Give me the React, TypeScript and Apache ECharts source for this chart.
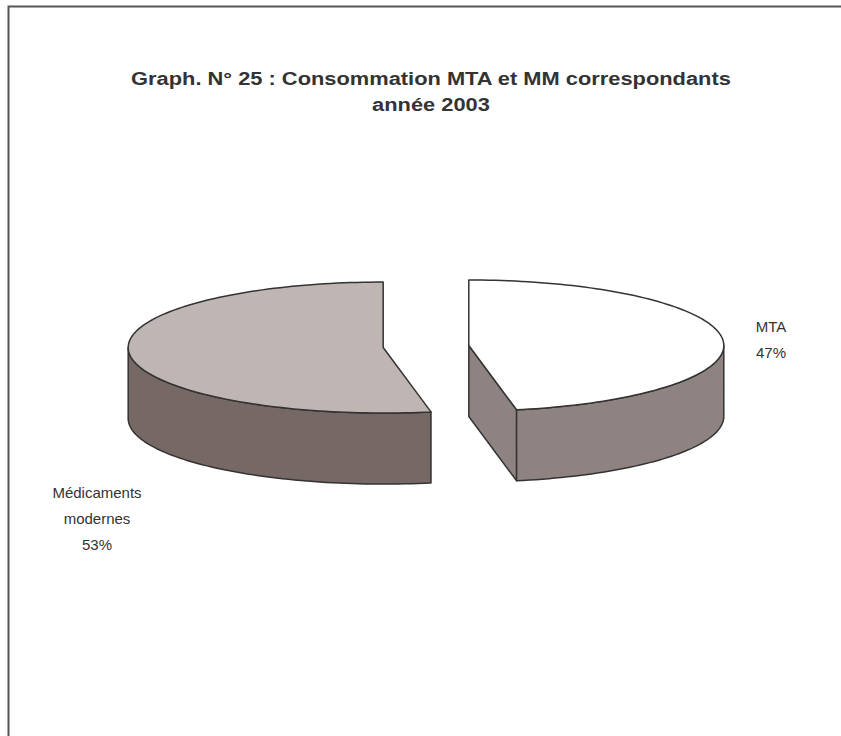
import React, { useEffect, useRef } from "react";
import * as echarts from "echarts";

// ---- data ----
const categories = ["MTA", "Médicaments modernes"];
const categoryLabels = ["MTA", "Médicaments\nmodernes"];
const values = [47, 53];
const titleLines = ["Graph. N° 25 : Consommation MTA et MM correspondants", "année 2003"];

// ---- styles / layout ----
const topColors = ["#ffffff", "#bfb6b3"];
const sideColors = ["#8e8380", "#766864"];
const labelAnchors = [
  [771, 339],
  [97, 518],
];
const CX = 426;
const CY = 346.5;
const RX = 255;
const RY = 65.5;
const H = 71;
const EXPLODE = 43;

const total = values.reduce((a, b) => a + b, 0);
const cum: number[] = [];
values.reduce((acc, v, i) => {
  cum[i] = acc;
  return acc + v;
}, 0);

function renderItem(params: any, api: any) {
  const i = params.dataIndex;
  const v = api.value(0);
  const start = (cum[i] / total) * Math.PI * 2;
  const end = start + (v / total) * Math.PI * 2;
  const mid = (start + end) / 2;
  const ox = CX + EXPLODE * Math.sin(mid);
  const oy = CY - EXPLODE * (RY / RX) * Math.cos(mid);
  const pt = (a: number, dy = 0) => [ox + RX * Math.sin(a), oy - RY * Math.cos(a) + dy];
  const arc = (a0: number, a1: number, dy = 0) => {
    const n = Math.max(2, Math.ceil((Math.abs(a1 - a0) / (Math.PI * 2)) * 240));
    const pts: number[][] = [];
    for (let k = 0; k <= n; k++) pts.push(pt(a0 + ((a1 - a0) * k) / n, dy));
    return pts;
  };
  const stroke = "#333333";
  const lw = 1.5;
  const children: any[] = [];

  const cutFace = (a: number) => ({
    type: "polygon",
    shape: { points: [[ox, oy], pt(a), pt(a, H), [ox, oy + H]] },
    style: { fill: sideColors[i], stroke, lineWidth: lw, lineJoin: "round" },
  });
  if (Math.sin(start) < -1e-6) children.push(cutFace(start));
  if (Math.sin(end) > 1e-6) children.push(cutFace(end));

  const a0 = Math.max(start, Math.PI / 2);
  const a1 = Math.min(end, (Math.PI * 3) / 2);
  if (a1 > a0) {
    const pts = arc(a0, a1).concat(arc(a1, a0, H));
    children.push({
      type: "polygon",
      shape: { points: pts },
      style: { fill: sideColors[i], stroke, lineWidth: lw, lineJoin: "round" },
    });
  }

  children.push({
    type: "polygon",
    shape: { points: [[ox, oy]].concat(arc(start, end)) },
    style: { fill: topColors[i], stroke, lineWidth: lw, lineJoin: "round" },
  });

  const pct = Math.round((v / total) * 100) + "%";
  children.push({
    type: "text",
    x: labelAnchors[i][0],
    y: labelAnchors[i][1],
    style: {
      text: categoryLabels[i] + "\n" + pct,
      fill: "#333333",
      fontFamily: "Liberation Sans, Arial, sans-serif",
      fontSize: 15,
      lineHeight: 26,
      align: "center",
      verticalAlign: "middle",
    },
  });

  return { type: "group", children };
}

export default function App() {
  const ref = useRef<HTMLDivElement>(null);
  useEffect(() => {
    if (!ref.current) return;
    const chart = echarts.init(ref.current, null, { renderer: "svg" });
    const titleStyle = {
      fontFamily: "Liberation Sans, Arial, sans-serif",
      fontSize: 19,
      fontWeight: "bold",
      fill: "#333333",
      align: "center",
      verticalAlign: "middle",
    };
    chart.setOption({
      animation: false,
      backgroundColor: "#ffffff",
      graphic: [
        {
          type: "rect",
          shape: { x: 8.5, y: 6.5, width: 1000, height: 1000 },
          style: { fill: "none", stroke: "#555555", lineWidth: 2 },
          silent: true,
        },
        {
          type: "text",
          x: 431,
          y: 78,
          scaleX: 1.15,
          style: { ...titleStyle, text: titleLines[0] },
        },
        {
          type: "text",
          x: 431,
          y: 104,
          scaleX: 1.15,
          style: { ...titleStyle, text: titleLines[1] },
        },
      ],
      series: [
        {
          type: "custom",
          name: "Consommation",
          coordinateSystem: "none",
          renderItem,
          data: values.map((v, i) => ({ value: [v], name: categories[i] })),
        },
      ],
    });
    return () => chart.dispose();
  }, []);
  return (
    <div
      ref={ref}
      style={{ position: "fixed", left: 0, top: 0, width: 841, height: 736 }}
    />
  );
}
